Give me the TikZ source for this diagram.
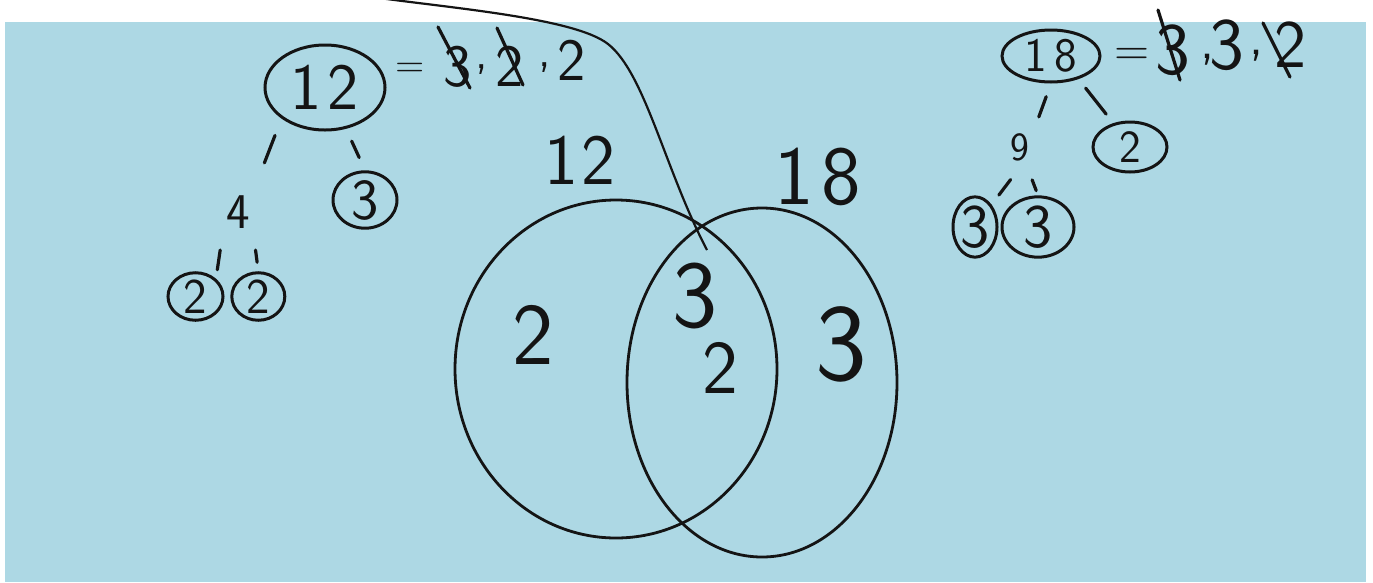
\documentclass[tikz,border=0pt]{standalone}
\usepackage{fontspec}
\usetikzlibrary{shapes.geometric,calc}
\definecolor{bgblue}{RGB}{173,216,228}
\definecolor{ink}{RGB}{20,20,20}
\begin{document}
\begin{tikzpicture}[x=1pt,y=-1pt,
  pen/.style={draw=ink,line width=3.2pt,line cap=round},
  vpen/.style={draw=ink,line width=2.8pt},
  fnt/.style={font=\sffamily\fontsize{#1}{#1}\selectfont,text=ink,inner sep=0pt},
  ring/.style={ellipse,draw=ink,line width=3pt,inner sep=0pt},
  plain/.style={inner sep=0pt,minimum width=30pt,minimum height=40pt}]
\useasboundingbox (0,0) rectangle (1373,582);
\fill[white] (0,0) rectangle (1373,582);
\fill[bgblue] (5,22) rectangle (1366,582);

% ---- left factor tree (12)
\node[ring,fnt=66,minimum width=120pt,minimum height=85pt] (n12) at (325,87.5) {1\hspace{6pt}2};
\node[ring,fnt=58,minimum width=64pt,minimum height=54pt] (n3L) at (365,200) {3};
\node[plain,fnt=50] (n4) at (238,212) {4};
\node[ring,fnt=50,minimum width=55pt,minimum height=47pt] (n2a) at (195.5,296.5) {2};
\node[ring,fnt=50,minimum width=53pt,minimum height=47pt] (n2b) at (258.3,296.5) {2};
\draw[pen,shorten <=18pt,shorten >=31pt] (n12.south west) -- (n4.north east);
\draw[pen,shorten <=13.5pt,shorten >=14pt] (n12.297) -- (n3L.north);
\draw[pen,shorten <=18pt,shorten >=9pt] (n4.south west) -- (n2a.north east);
\draw[pen,shorten <=18pt,shorten >=9pt] (n4.south east) -- (n2b.north);

% ---- left product  = 3,2,2
\node[fnt=40] (eqL) at (410,70) {=};
\node[fnt=60] (sL1) at (458,67) {3};
\node[fnt=48] (cL1) at (482,70) {,};
\node[fnt=60] (sL2) at (510,66) {2};
\node[fnt=48] (cL2) at (545,68) {,};
\node[fnt=60] (sL3) at (572,60) {2};
\draw[pen] ($(sL1.center)+(-20,-40)$) -- ($(sL1.center)+(12,21)$);
\draw[pen] ($(sL2.center)+(-13,-38)$) -- ($(sL2.center)+(13,19)$);

% ---- right factor tree (18)
\node[ring,fnt=48,minimum width=98pt,minimum height=52pt] (n18) at (1051,56) {1\hspace{8pt}8};
\node[plain,fnt=40] (n9) at (1020,147) {9};
\node[ring,fnt=46,minimum width=74pt,minimum height=50pt] (n2r) at (1130,147) {2};
\node[ring,fnt=62,minimum width=44pt,minimum height=52pt] (n3a) at (975,227) {3};
\node[ring,fnt=62,minimum width=72pt,minimum height=44pt] (n3b) at (1038,227) {3};
\draw[pen,shorten <=14pt,shorten >=10.5pt] (n18.south) -- (n9.north east);
\draw[pen,shorten <=11.5pt,shorten >=11.5pt] (n18.320) -- (n2r.125);
\draw[pen,shorten <=15.5pt,shorten >=12pt] (n9.south) -- (n3a.north east);
\draw[pen,shorten <=13.5pt,shorten >=5pt] (n9.-70) -- (n3b.north);

% ---- right product  = 3,3,2
\node[fnt=48] (eqR) at (1132,57) {=};
\node[fnt=74] (sR1) at (1173,50) {3};
\node[fnt=54] (cR1) at (1208,60) {,};
\node[fnt=74] (sR2) at (1227,45) {3};
\node[fnt=54] (cR2) at (1257,56) {,};
\node[fnt=68] (sR3) at (1290,45) {2};
\draw[pen] ($(sR1.center)+(-15,-40)$) -- ($(sR1.center)+(7,30)$);
\draw[pen] ($(sR3.center)+(-27,-22)$) -- ($(sR3.center)+(0,32)$);

% ---- Venn diagram
\node[ellipse,vpen,minimum width=322pt,minimum height=338pt] (vL) at (616,369) {};
\node[ellipse,vpen,minimum width=270pt,minimum height=349pt] (vR) at (762,382.5) {};
\node[fnt=72] (lab12) at (580,160) {1\hspace{4pt}2};
\node[fnt=84] (lab18) at (818,177) {1\hspace{8pt}8};
\node[fnt=88] (d2L) at (533,335) {2};
\node[fnt=96] (d3M) at (695,296) {3};
\node[fnt=76] (d2M) at (720,368) {2};
\node[fnt=110] (d3R) at (841,344) {3};

% ---- free hand curve
\draw[draw=ink,line width=2.2pt] (372,-3) .. controls (450,8) and (575,18) .. (608,44)
  .. controls (645,73) and (665,170) .. (707,250);
\end{tikzpicture}
\end{document}
